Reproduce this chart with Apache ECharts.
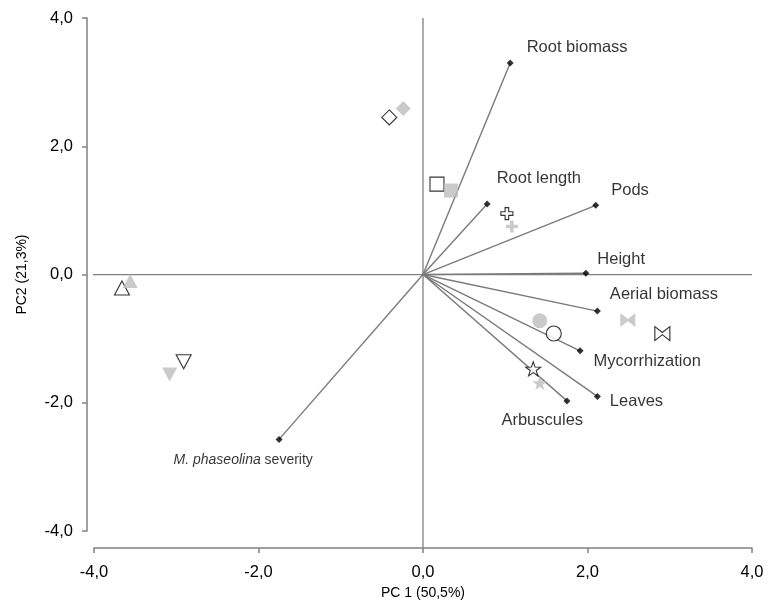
<!DOCTYPE html>
<html>
<head>
<meta charset="utf-8">
<script src="https://cdn.jsdelivr.net/npm/echarts@6/dist/echarts.min.js"></script>
<style>html,body{margin:0;padding:0;background:#fff}#c{width:770px;height:605px}</style>
</head>
<body>
<div id="c"></div>
<script>
// ---- data ----
const tickValues = [-4, -2, 0, 2, 4];
const vectorNames = ['Root biomass', 'Root length', 'Pods', 'Height', 'Aerial biomass', 'Mycorrhization', 'Leaves', 'Arbuscules', 'M. phaseolina severity'];
const vectorX = [1.06, 0.78, 2.10, 1.98, 2.12, 1.91, 2.12, 1.75, -1.75];
const vectorY = [3.30, 1.10, 1.08, 0.02, -0.57, -1.19, -1.90, -1.97, -2.57];
const groupNames = ['Diamond', 'Square', 'Cross', 'Circle', 'Bowtie', 'Star', 'TriangleUp', 'TriangleDown'];
const openX = [-0.41, 0.17, 1.02, 1.59, 2.91, 1.34, -3.66, -2.91];
const openY = [2.45, 1.41, 0.95, -0.92, -0.92, -1.47, -0.21, -1.36];
const greyX = [-0.24, 0.34, 1.08, 1.42, 2.49, 1.42, -3.56, -3.08];
const greyY = [2.59, 1.31, 0.75, -0.72, -0.71, -1.69, -0.10, -1.56];

// ---- styling / layout ----
const AXIS = '#808080';
const GREY = '#bdbdbd';
const TXT = '#000000';
const FONT = 'Liberation Sans, Arial, sans-serif';
const symbols = {
  Diamond: {s: 'diamond', size: [15, 15], rot: 0},
  Square: {s: 'rect', size: [14, 14], rot: 0},
  Cross: {s: 'path://M3.5,0H6.5V3.5H10V6.5H6.5V10H3.5V6.5H0V3.5H3.5Z', size: [12, 12], rot: 0},
  Circle: {s: 'circle', size: [15, 15], rot: 0},
  Bowtie: {s: 'path://M0,0L5,4.2L10,0L10,10L5,5.8L0,10Z', size: [15, 14], rot: 0},
  Star: {s: 'path://M50,0L61.76,33.82L97.55,34.55L69.02,56.18L79.39,90.45L50,70L20.61,90.45L30.98,56.18L2.45,34.55L38.24,33.82Z', size: [15, 14], rot: 0},
  TriangleUp: {s: 'triangle', size: [15, 14], rot: 0},
  TriangleDown: {s: 'triangle', size: [15, 14], rot: 180}
};
// label offsets relative to symbol box top-left
const labelPos = {
  'Root biomass': [20, -12],
  'Root length': [13, -22],
  'Pods': [19, -11],
  'Height': [15, -10],
  'Aerial biomass': [16, -13],
  'Mycorrhization': [17, 14],
  'Leaves': [16, 9],
  'Arbuscules': [-62, 23],
  'M. phaseolina severity': [-102, 24]
};
const labelSize = {'M. phaseolina severity': 14};

const fmt = v => v.toFixed(1).replace('.', ',');
const series = [];

// zero reference lines
series.push({type: 'line', data: [[0, 4], [0, -4.26]], symbol: 'none', clip: false, silent: true,
  lineStyle: {color: AXIS, width: 1.3}, z: 1});
series.push({type: 'line', data: [[-4.09, 0], [4, 0]], symbol: 'none', clip: false, silent: true,
  lineStyle: {color: AXIS, width: 1.3}, z: 1});

// vector lines
vectorNames.forEach((n, i) => {
  series.push({type: 'line', data: [[0, 0], [vectorX[i], vectorY[i]]], symbol: 'none', silent: true,
    lineStyle: {color: '#7a7a7a', width: 1.4}, z: 2});
});

// observations
groupNames.forEach((g, i) => {
  const sy = symbols[g];
  series.push({type: 'scatter', data: [[openX[i], openY[i]]], symbol: sy.s, symbolSize: sy.size, symbolRotate: sy.rot,
    itemStyle: {color: '#ffffff', borderColor: '#000000', borderWidth: 1.1}, z: 3});
  series.push({type: 'scatter', data: [[greyX[i], greyY[i]]], symbol: sy.s, symbolSize: sy.size, symbolRotate: sy.rot,
    itemStyle: {color: GREY, borderWidth: 0}, z: 4});
});

// vector endpoints with labels
series.push({
  type: 'scatter', symbol: 'diamond', symbolSize: 7, z: 5,
  itemStyle: {color: '#000000'},
  data: vectorNames.map((n, i) => ({
    value: [vectorX[i], vectorY[i]], name: n,
    label: {position: labelPos[n], fontSize: labelSize[n] || 16.5}
  })),
  label: {
    show: true, align: 'left', verticalAlign: 'middle', color: TXT, fontFamily: FONT, fontSize: 16.5,
    formatter: p => p.name === 'M. phaseolina severity' ? '{i|M. phaseolina} {n|severity}' : p.name,
    rich: {
      i: {fontStyle: 'italic', fontFamily: FONT, fontSize: 14, color: TXT},
      n: {fontFamily: FONT, fontSize: 14, color: TXT}
    }
  }
});

const chart = echarts.init(document.getElementById('c'), null, {renderer: 'canvas'});
chart.setOption({
  animation: false,
  backgroundColor: '#ffffff',
  grid: {left: 94, right: 18, top: 18, bottom: 72, containLabel: false},
  xAxis: {
    type: 'value', min: tickValues[0], max: tickValues[tickValues.length - 1], interval: 2,
    offset: 17, splitLine: {show: false},
    axisLine: {onZero: false, lineStyle: {color: AXIS, width: 1.5}},
    axisTick: {show: true, length: 5, lineStyle: {color: AXIS, width: 1.5}},
    axisLabel: {formatter: fmt, color: TXT, fontFamily: FONT, fontSize: 16.5, margin: 16},
    name: 'PC 1 (50,5%)', nameLocation: 'middle', nameGap: 36,
    nameTextStyle: {color: TXT, fontFamily: FONT, fontSize: 14}
  },
  yAxis: {
    type: 'value', min: tickValues[0], max: tickValues[tickValues.length - 1], interval: 2,
    offset: 7, splitLine: {show: false},
    axisLine: {onZero: false, lineStyle: {color: AXIS, width: 1.5}},
    axisTick: {show: true, length: 5, lineStyle: {color: AXIS, width: 1.5}},
    axisLabel: {formatter: fmt, color: TXT, fontFamily: FONT, fontSize: 16.5, margin: 14},
    name: 'PC2 (21,3%)', nameLocation: 'middle', nameGap: 58, nameRotate: 90,
    nameTextStyle: {color: TXT, fontFamily: FONT, fontSize: 14}
  },
  series: series
});
</script>
</body>
</html>
